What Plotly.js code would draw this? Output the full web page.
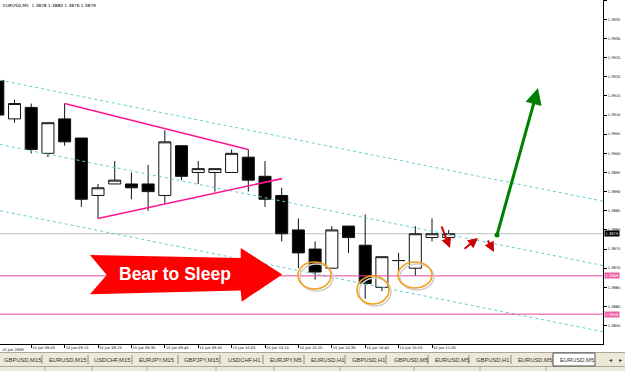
<!DOCTYPE html>
<html><head><meta charset="utf-8">
<script src="https://cdn.plot.ly/plotly-3.0.1.min.js"></script>
<style>html,body{margin:0;padding:0;background:#fff;overflow:hidden}#chart{width:625px;height:371px}</style>
</head><body><div id="chart"></div>
<script>
// ---- data ----
const times = ['08:55','09:00','09:05','09:10','09:15','09:20','09:25','09:30','09:35','09:40','09:45','09:50','09:55','10:00',
               '10:05','10:10','10:15','10:20','10:25','10:30','10:35','10:40','10:45','10:50','10:55','11:00','11:05','11:10'];
const open  = [1.3919,1.3909,1.3912,1.3900,1.3909,1.3904,1.3889,1.3892,1.3892,1.3892,1.3889,1.3902,1.3895,1.3895,
               1.3895,1.3899,1.3894,1.3889,1.3880,1.3875,1.3870,1.3881,1.3876,1.3865,1.3872,1.3870,1.3878,1.3878];
const high  = [1.3921,1.3914,1.3913,1.3908,1.3913,1.3904,1.3892,1.3898,1.3895,1.3897,1.3906,1.3902,1.3898,1.3896,
               1.3901,1.3901,1.3898,1.3891,1.3883,1.3877,1.3881,1.3881,1.3884,1.3873,1.3874,1.3881,1.3883,1.3880];
const low   = [1.3909,1.3908,1.3900,1.3899,1.3902,1.3886,1.3883,1.3892,1.3888,1.3885,1.3887,1.3893,1.3892,1.3890,
               1.3895,1.3890,1.3886,1.3877,1.3870,1.3867,1.3870,1.3874,1.3862,1.3864,1.3869,1.3868,1.3877,1.3876];
const close = [1.3910,1.3913,1.3901,1.3908,1.3903,1.3888,1.3891,1.3893,1.3891,1.3890,1.3903,1.3894,1.3896,1.3896,
               1.3900,1.3893,1.3888,1.3879,1.3874,1.3869,1.3880,1.3878,1.3866,1.3873,1.3872,1.3879,1.3879,1.3879];
const levels = [1.3868, 1.3858];
const yTicks = [1.3855,1.3860,1.3865,1.3870,1.3875,1.3880,1.3885,1.3890,1.3895,1.3900,1.3905,1.3910,1.3915,1.3920,1.3925,1.3930,1.3935,1.3940];
const symbol = 'EURUSD,M5';
const dateLabel = '15 Jun 2009';
const dayPrefix = '15 Jun ';
const tabs = ['GBPUSD,M15','EURUSD,M15','USDCHF,M15','EURJPY,M15','GBPJPY,M15','USDCHF,H1','EURJPY,M5','EURUSD,H1',
              'GBPUSD,H1','GBPUSD,M5','EURUSD,M5','GBPUSD,H1','EURUSD,M5','EURUSD,M5'];
const callout = 'Bear to Sleep';
// trend lines: [x index, price] pairs
const triangle = [[[4,1.3913],[15,1.3901]], [[6,1.3883],[17.02,1.38934]]];
const channel  = [[[0.13,1.39191],[36.24,1.38875]], [[0.13,1.39023],[36.24,1.38707]], [[0.13,1.38850],[36.24,1.38534]]];

// ---- decoration geometry (pixels within plot area 603x344) ----
const PW = 603, PH = 344;
const PX = x => x / PW, PY = y => 1 - y / PH;
const bigArrow = [[90,255],[240.7,258],[240.7,248],[282.3,274.5],[241.7,301.7],[240.7,290.5],[90,294.3],[106.7,275]];
const ellipses = [[298,262,331,289],[357,276,389,304],[398,262,432,288]];
const redArrows = [[441,225,450,248],[463,250,478,238],[487,239,494,252]];
const greenArrow = [497,235,538,88];
const tabStart = [2,47,92,137,182,226,268,309,350,392,433,474,516,558];
const tabSep = [42,88,132,178,220,263,304,345,386,428,469,511,553];

const shapes = [];
const annotations = [];
const tiny = {family:'DejaVu Sans', size:3.6, color:'#000'};

// bottom tab bar
shapes.push({type:'rect', xref:'paper', yref:'paper', x0:-0.01, x1:1.05, y0:PY(352), y1:PY(373), fillcolor:'#ece9d8', line:{width:0}, layer:'below'});
shapes.push({type:'line', xref:'paper', yref:'paper', x0:-0.01, x1:1.05, y0:PY(352.5), y1:PY(352.5), line:{color:'#aca899', width:1}});
shapes.push({type:'line', xref:'paper', yref:'paper', x0:-0.01, x1:1.05, y0:PY(366.5), y1:PY(366.5), line:{color:'#aca899', width:1}});
tabSep.forEach(s => shapes.push({type:'line', xref:'paper', yref:'paper', x0:PX(s), x1:PX(s), y0:PY(355), y1:PY(364), line:{color:'#8c8c8c', width:1}}));
shapes.push({type:'rect', xref:'paper', yref:'paper', x0:PX(553), x1:PX(595), y0:PY(353), y1:PY(366), fillcolor:'#fff', line:{color:'#555', width:1}});
[45,92,147,216,274,340,414,480,546].forEach(s => shapes.push({type:'line', xref:'paper', yref:'paper', x0:PX(s), x1:PX(s), y0:PY(367), y1:PY(371), line:{color:'#aca899', width:1}}));
tabs.forEach((t,i) => annotations.push({xref:'paper', yref:'paper', x:PX(tabStart[i]), y:PY(359.5), xanchor:'left', yanchor:'middle', text:t, showarrow:false, font:{family:'Liberation Sans', size:5.8, color:'#333'}}));
annotations.push({xref:'paper', yref:'paper', x:PX(610), y:PY(359.5), xanchor:'center', yanchor:'middle', text:'◂', showarrow:false, font:{size:6, color:'#333'}});
annotations.push({xref:'paper', yref:'paper', x:PX(620), y:PY(359.5), xanchor:'center', yanchor:'middle', text:'▸', showarrow:false, font:{size:6, color:'#333'}});

// channel lines
channel.forEach(l => shapes.push({type:'line', xref:'x', yref:'y', x0:l[0][0], y0:l[0][1], x1:l[1][0], y1:l[1][1], line:{color:'#5fd0d0', width:1, dash:'dot'}}));
// levels
levels.forEach(v => shapes.push({type:'line', xref:'paper', yref:'y', x0:0, x1:1, y0:v, y1:v, line:{color:'#e8479b', width:1}}));
// bid line
const last = close.length - 1;
shapes.push({type:'line', xref:'paper', yref:'y', x0:0, x1:1, y0:close[last], y1:close[last], line:{color:'#c0c0c0', width:1}, layer:'below'});
// triangle
triangle.forEach(l => shapes.push({type:'line', xref:'x', yref:'y', x0:l[0][0], y0:l[0][1], x1:l[1][0], y1:l[1][1], line:{color:'#ff1493', width:1.6}}));
// big red arrow
shapes.push({type:'path', xref:'paper', yref:'paper', path:'M' + bigArrow.map(p => PX(p[0]) + ',' + PY(p[1])).join(' L') + ' Z', fillcolor:'#ff0000', line:{width:0}});
annotations.push({xref:'paper', yref:'paper', x:PX(175), y:PY(274), xanchor:'center', yanchor:'middle', text:'<b>' + callout + '</b>', showarrow:false, font:{family:'Liberation Sans', size:17.5, color:'#fff'}});
// ellipses with shadow
ellipses.forEach(e => {
  shapes.push({type:'circle', xref:'paper', yref:'paper', x0:PX(e[0]+2), x1:PX(e[2]+2), y0:PY(e[1]+2), y1:PY(e[3]+2), line:{color:'#cfcfcf', width:1.6}});
  shapes.push({type:'circle', xref:'paper', yref:'paper', x0:PX(e[0]), x1:PX(e[2]), y0:PY(e[1]), y1:PY(e[3]), line:{color:'#f5a01a', width:1.6}});
});
// arrows
redArrows.forEach(a => annotations.push({xref:'paper', yref:'paper', x:PX(a[2]), y:PY(a[3]), ax:a[0]-a[2], ay:a[1]-a[3], text:'', showarrow:true, arrowhead:2, arrowsize:1, arrowwidth:2, arrowcolor:'#cc0000', standoff:0}));
annotations.push({xref:'paper', yref:'paper', x:PX(greenArrow[2]), y:PY(greenArrow[3]), ax:greenArrow[0]-greenArrow[2], ay:greenArrow[1]-greenArrow[3], text:'', showarrow:true, arrowhead:2, arrowsize:1.1, arrowwidth:3, arrowcolor:'#008000', standoff:0});
shapes.push({type:'circle', xref:'paper', yref:'paper', x0:PX(greenArrow[0]-2.5), x1:PX(greenArrow[0]+2.5), y0:PY(greenArrow[1]-2.5), y1:PY(greenArrow[1]+2.5), fillcolor:'#008000', line:{width:0}});

// title (last bar OHLC)
annotations.push({xref:'paper', yref:'paper', x:0.002, y:1, xanchor:'left', yanchor:'top', yshift:-1, showarrow:false,
  text: symbol + '\u00a0\u00a0' + [open[last], high[last], low[last], close[last]].map(v => v.toFixed(4)).join(' '),
  font:{family:'DejaVu Sans', size:4.3, color:'#000'}});
// date label at left edge
annotations.push({xref:'paper', yref:'paper', x:0, y:PY(349.5), xanchor:'left', yanchor:'middle', showarrow:false, text:dateLabel, font:tiny});
// price labels on the axis
const tag = (v, bg) => annotations.push({xref:'paper', yref:'y', x:1, y:v, xanchor:'left', yanchor:'middle', xshift:1, showarrow:false,
  text:v.toFixed(4), bgcolor:bg, borderpad:0.6, font:{family:'DejaVu Sans', size:3.6, color:'#fff'}});
tag(close[last], '#000');
levels.forEach(v => tag(v, '#ee5ea6'));

const tickIdx = times.map((t,i) => i).filter(i => i >= 2 && i % 2 === 0);

const trace = {type:'candlestick', x:times, open:open, high:high, low:low, close:close,
  increasing:{fillcolor:'#ffffff', line:{color:'#111', width:1}},
  decreasing:{fillcolor:'#000000', line:{color:'#111', width:1}},
  whiskerwidth:0, hoverinfo:'skip'};

const layout = {
  width:625, height:371, margin:{l:0, r:22, t:0, b:27, pad:0},
  paper_bgcolor:'#fff', plot_bgcolor:'#fff', showlegend:false, boxgap:0.28, boxgroupgap:0,
  xaxis:{type:'category', range:[0.13,36.24], rangeslider:{visible:false}, showgrid:false, zeroline:false,
    showline:true, linecolor:'#000', linewidth:1, ticks:'outside', ticklen:3, tickcolor:'#000',
    tickvals:tickIdx.map(i => times[i]), ticktext:tickIdx.map(i => dayPrefix + times[i]),
    ticklabelposition:'outside right', tickfont:tiny, fixedrange:true},
  yaxis:{side:'right', range:[1.38502,1.394005], tickvals:yTicks, ticktext:yTicks.map(v => v.toFixed(4)),
    showgrid:false, zeroline:false, showline:true, linecolor:'#000', linewidth:1, ticks:'outside', ticklen:3, tickcolor:'#000',
    tickfont:tiny, fixedrange:true},
  shapes:shapes, annotations:annotations
};
Plotly.newPlot('chart', [trace], layout, {staticPlot:true, displayModeBar:false});
</script></body></html>
